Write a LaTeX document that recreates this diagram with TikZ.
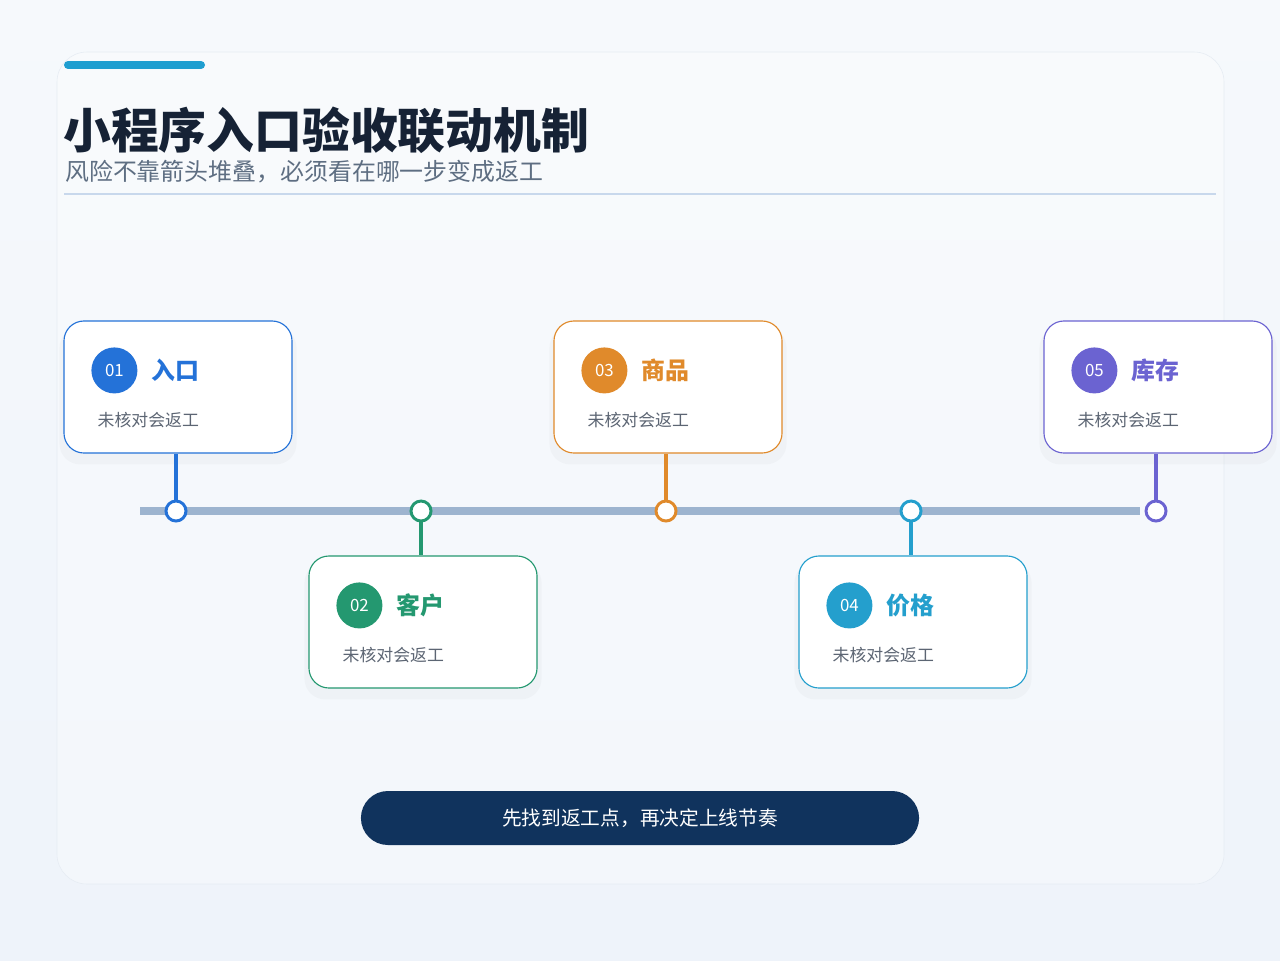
\documentclass[tikz,border=0pt]{standalone}
\usepackage{fontspec}
\setmainfont{Noto Sans CJK SC}
\usepackage{xcolor}
\usepackage{tikz}
\usetikzlibrary{positioning, calc, shadows}

\definecolor{inkdark}{HTML}{162235}
\definecolor{subgray}{HTML}{5E6E82}
\definecolor{notegray}{HTML}{5C6573}
\definecolor{rulec}{HTML}{C8D8EC}
\definecolor{trackc}{HTML}{9DB4CF}
\definecolor{cblue}{HTML}{2472D8}
\definecolor{cgreen}{HTML}{249870}
\definecolor{corange}{HTML}{E08A2B}
\definecolor{ccyan}{HTML}{249FCD}
\definecolor{cpurple}{HTML}{6B63D1}
\definecolor{navy}{HTML}{10335D}
\definecolor{accentc}{HTML}{1F9ED0}
\definecolor{bgtop}{HTML}{F6F9FC}
\definecolor{bgbot}{HTML}{EEF3FA}
\definecolor{panelc}{HTML}{E6ECF3}

\begin{document}
\begin{tikzpicture}[
    x=0.025cm, y=-0.025cm,
    card/.style={
        rectangle, rounded corners=0.5cm,
        draw=#1, fill=white, line width=0.8pt,
        minimum width=5.7cm, minimum height=3.3cm,
        drop shadow={opacity=0.045, shadow xshift=0pt, shadow yshift=-6pt, shadow scale=1.04}
    },
    badge/.style={
        circle, fill=#1, text=white,
        minimum size=1.15cm, inner sep=0pt,
        font=\fontsize{12}{14}\selectfont
    },
    head/.style={text=#1, inner sep=0pt, font=\bfseries\fontsize{17}{20}\selectfont},
    note/.style={text=notegray, inner sep=0pt, anchor=west, font=\fontsize{12}{14}\selectfont},
    dot/.style={circle, draw=#1, fill=white, line width=2.1pt, minimum size=0.5cm, inner sep=0pt},
    stem/.style={#1, line width=2.4pt},
    track/.style={draw=trackc, line width=5.7pt},
]

% Sfondo
\shade[top color=bgtop, bottom color=bgbot] (0,0) rectangle (1280,960);
\useasboundingbox (0,0) rectangle (1280,960);
\draw[rounded corners=0.75cm, draw=panelc, fill=white, fill opacity=0.3]
    (57,52) rectangle (1224,884);

% Intestazione
\draw[accentc, line width=5.7pt, line cap=round] (68,65) -- (201,65);
\node[anchor=west, inner sep=0pt, text=inkdark, font=\bfseries\fontsize{34}{40}\selectfont]
    (title) at (63,130) {小程序入口验收联动机制};
\node[anchor=west, inner sep=0pt, text=subgray, font=\fontsize{17}{20}\selectfont]
    (subtitle) at (65,172) {风险不靠箭头堆叠，必须看在哪一步变成返工};
\draw[rulec, line width=1.4pt] (64,194) -- (1216,194);

% Linea del tempo
\coordinate (tl) at (140,511);
\coordinate (tr) at (1140,511);
\draw[track] (tl) -- (tr);

% Schede
\node[card=cblue]   (card1) at (178,387) {};
\node[card=cgreen]  (card2) at (423,622) {};
\node[card=corange] (card3) at (668,387) {};
\node[card=ccyan]   (card4) at (913,622) {};
\node[card=cpurple] (card5) at (1158,387) {};

% Punti
\node[dot=cblue]   (dot1) at (176,511) {};
\node[dot=cgreen]  (dot2) at (421,511) {};
\node[dot=corange] (dot3) at (666,511) {};
\node[dot=ccyan]   (dot4) at (911,511) {};
\node[dot=cpurple] (dot5) at (1156,511) {};

% Collegamenti
\draw[stem=cblue]   (dot1) -- (dot1 |- card1.south);
\draw[stem=cgreen]  (dot2) -- (dot2 |- card2.north);
\draw[stem=corange] (dot3) -- (dot3 |- card3.south);
\draw[stem=ccyan]   (dot4) -- (dot4 |- card4.north);
\draw[stem=cpurple] (dot5) -- (dot5 |- card5.south);

%% 01
\node[badge=cblue] (badge1) at ($(card1.north west)+(51,50)$) {01};
\node[head=cblue, right=0.35cm of badge1] (head1) {入口};
\node[note] (note1) at ($(card1.north west)+(34,100)$) {未核对会返工};

%% 02
\node[badge=cgreen] (badge2) at ($(card2.north west)+(51,50)$) {02};
\node[head=cgreen, right=0.35cm of badge2] (head2) {客户};
\node[note] (note2) at ($(card2.north west)+(34,100)$) {未核对会返工};

%% 03
\node[badge=corange] (badge3) at ($(card3.north west)+(51,50)$) {03};
\node[head=corange, right=0.35cm of badge3] (head3) {商品};
\node[note] (note3) at ($(card3.north west)+(34,100)$) {未核对会返工};

%% 04
\node[badge=ccyan] (badge4) at ($(card4.north west)+(51,50)$) {04};
\node[head=ccyan, right=0.35cm of badge4] (head4) {价格};
\node[note] (note4) at ($(card4.north west)+(34,100)$) {未核对会返工};

%% 05
\node[badge=cpurple] (badge5) at ($(card5.north west)+(51,50)$) {05};
\node[head=cpurple, right=0.35cm of badge5] (head5) {库存};
\node[note] (note5) at ($(card5.north west)+(34,100)$) {未核对会返工};

% Conclusione
\node[rectangle, rounded corners=0.675cm, fill=navy, text=white,
      minimum width=13.95cm, minimum height=1.35cm,
      font=\fontsize{14}{16}\selectfont]
    (motto) at (640,818) {先找到返工点，再决定上线节奏};

\end{tikzpicture}
\end{document}
